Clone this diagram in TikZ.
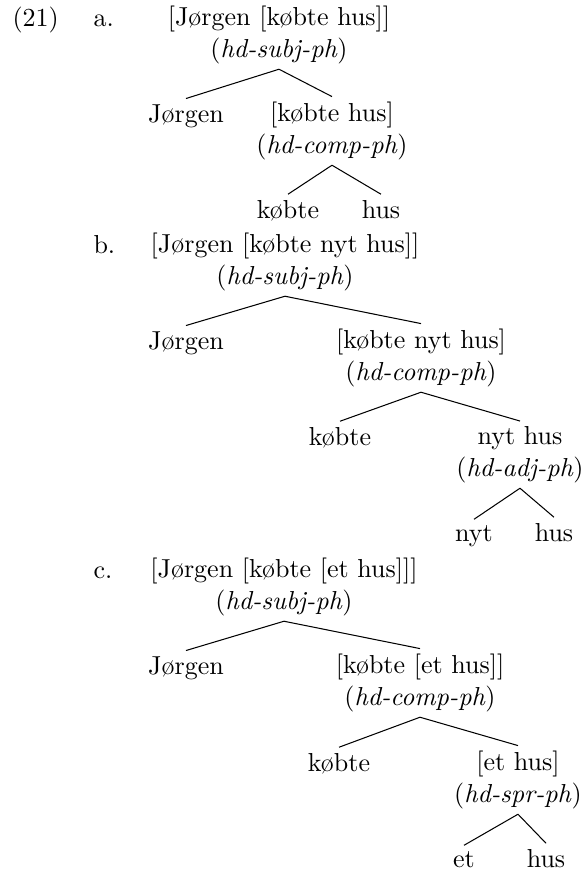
\documentclass[tikz,border=0pt]{standalone}
\begin{document}
\begin{tikzpicture}[x=0.3846pt,y=-0.3846pt,ph/.style={align=center,inner sep=2pt,anchor=base},wd/.style={inner sep=2pt,anchor=base},lbl/.style={inner sep=0pt,anchor=base west}]
  \useasboundingbox (0,0) rectangle (584,876);
  \node[lbl] at (12,26) (exnum){(21)};
  \node[lbl] at (93,26) (la){a.};
  \node[ph] at (279,57) (a0){[Jørgen [købte hus]]\\(\textit{hd-subj-ph})};
  \node[wd] at (186,122) (a1){Jørgen};
  \node[ph] at (332,153) (a2){[købte hus]\\(\textit{hd-comp-ph})};
  \node[wd] at (288,218) (a3){købte};
  \node[wd] at (381,218) (a4){hus};
  \draw (a0.south) -- (a1.north) (a0.south) -- (a2.north);
  \draw (a2.south) -- (a3.north) (a2.south) -- (a4.north);
  \node[lbl] at (93,253) (lb){b.};
  \node[ph] at (285,284) (b0){[Jørgen [købte nyt hus]]\\(\textit{hd-subj-ph})};
  \node[wd] at (186,349) (b1){Jørgen};
  \node[ph] at (421,380) (b2){[købte nyt hus]\\(\textit{hd-comp-ph})};
  \node[wd] at (340,445) (b3){købte};
  \node[ph] at (520,476) (b4){nyt hus\\(\textit{hd-adj-ph})};
  \node[wd] at (474,541) (b5){nyt};
  \node[wd] at (554,541) (b6){hus};
  \draw (b0.south) -- (b1.north) (b0.south) -- (b2.north);
  \draw (b2.south) -- (b3.north) (b2.south) -- (b4.north);
  \draw (b4.south) -- (b5.north) (b4.south) -- (b6.north);
  \node[lbl] at (93,578) (lc){c.};
  \node[ph] at (284,609) (c0){[Jørgen [købte [et hus]]]\\(\textit{hd-subj-ph})};
  \node[wd] at (186,674) (c1){Jørgen};
  \node[ph] at (420,705) (c2){[købte [et hus]]\\(\textit{hd-comp-ph})};
  \node[wd] at (339,771) (c3){købte};
  \node[ph] at (518,802) (c4){[et hus]\\(\textit{hd-spr-ph})};
  \node[wd] at (464,867) (c5){et};
  \node[wd] at (546,867) (c6){hus};
  \draw (c0.south) -- (c1.north) (c0.south) -- (c2.north);
  \draw (c2.south) -- (c3.north) (c2.south) -- (c4.north);
  \draw (c4.south) -- (c5.north) (c4.south) -- (c6.north);
\end{tikzpicture}
\end{document}
